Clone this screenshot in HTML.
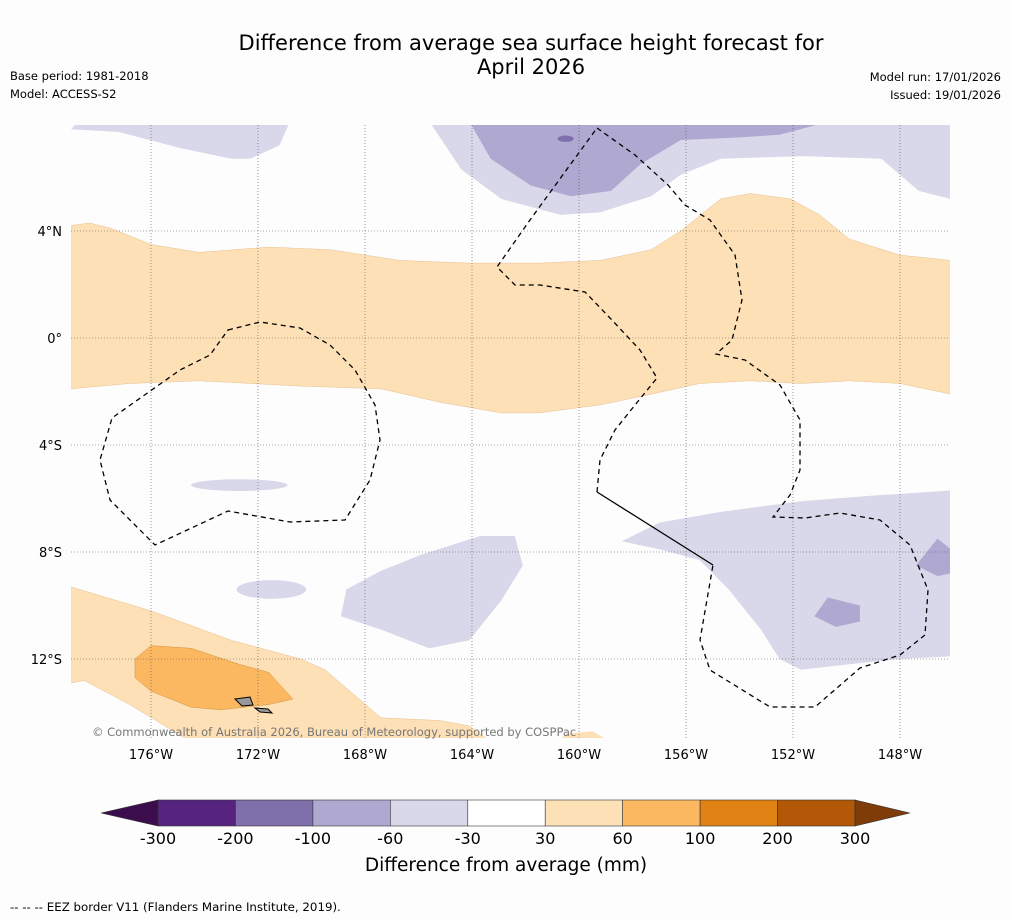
<!DOCTYPE html>
<html><head><meta charset="utf-8">
<style>
html,body{margin:0;padding:0;background:#fdfdfd;}
svg{display:block;font-family:"DejaVu Sans","Liberation Sans",sans-serif;}
</style></head>
<body>
<svg id="chart" width="1011" height="919" viewBox="0 0 1011 919" xmlns="http://www.w3.org/2000/svg">
<rect width="1011" height="919" fill="#fdfdfd"/>
<text x="531" y="50" font-size="21" text-anchor="middle" fill="#000">Difference from average sea surface height forecast for</text>
<text x="531" y="74" font-size="21" text-anchor="middle" fill="#000">April 2026</text>
<text x="10" y="80" font-size="11.5">Base period: 1981-2018</text>
<text x="10" y="98" font-size="11.5">Model: ACCESS-S2</text>
<text x="1001" y="81" font-size="11.5" text-anchor="end">Model run: 17/01/2026</text>
<text x="1001" y="99" font-size="11.5" text-anchor="end">Issued: 19/01/2026</text>
<defs><clipPath id="mapclip"><rect x="71" y="125" width="879" height="613"/></clipPath></defs>
<g id="map" clip-path="url(#mapclip)"></g>
<g id="grid"></g>
<g id="borders" clip-path="url(#mapclip)">
<path d="M228,330 L260,322 L300,328 L330,345 L355,370 L375,405 L380,440 L370,480 L345,520 L290,522 L228,511 L155,545 L110,500 L100,460 L112,418 L180,370 L210,355 Z" fill="none" stroke="#000" stroke-width="1.3" stroke-dasharray="5,4"/>
<path d="M597,128 L635,155 L668,185 L685,205 L710,220 L735,255 L742,300 L732,340 L716,354 L745,360 L780,385 L800,420 L800,470 L790,495 L773,517 L805,518 L840,513 L880,520 L910,545 L928,590 L925,635 L900,655 L860,668 L815,707 L770,707 L710,670 L700,640 L713,565" fill="none" stroke="#000" stroke-width="1.3" stroke-dasharray="5,4"/>
<path d="M597,492 L600,460 L615,430 L635,405 L657,378 L640,350 L610,318 L585,292 L540,285 L515,285 L497,267 L530,220 L570,165 L597,128" fill="none" stroke="#000" stroke-width="1.3" stroke-dasharray="5,4"/>
<path d="M597,492 L713,565" fill="none" stroke="#000" stroke-width="1.3"/>
<path d="M235,699 L250,697 L253,705 L242,706 Z M255,708 L268,709 L272,713 L260,712 Z" fill="#999" stroke="#000" stroke-width="1"/>
</g>
<text x="92" y="736" font-size="11.5" fill="#777">© Commonwealth of Australia 2026, Bureau of Meteorology, supported by COSPPac</text>
<g id="cbar"></g>
<text x="506" y="871" font-size="18.5" text-anchor="middle">Difference from average (mm)</text>
<text x="10" y="911" font-size="11.8">--  --  -- EEZ border V11 (Flanders Marine Institute, 2019).</text>
</svg>
<script>
const lonTicks=[-176,-172,-168,-164,-160,-156,-152,-148];
const latTicks=[4,0,-4,-8,-12];
const levelLabels=["-300","-200","-100","-60","-30","30","60","100","200","300"];
const levelColors=["#56237f","#7f6fab","#afa8d0","#d8d8ea","#ffffff","#fde0b6","#fbb861","#e08214","#b35806"];
const extendLow="#3b0d4d", extendHigh="#7f3b08";
const orangeBand=[[-179,4.2],[-178.3,4.3],[-177.5,4.1],[-176,3.5],[-174.2,3.2],[-171.6,3.4],[-169.3,3.3],[-166.7,2.9],[-164.1,2.8],[-161.5,2.8],[-159.2,2.9],[-157.3,3.3],[-156.2,4.0],[-154.7,5.2],[-153.6,5.4],[-152.1,5.2],[-151,4.6],[-149.9,3.7],[-148,3.1],[-146.1,2.9],[-146.1,-2.1],[-148,-1.7],[-149.9,-1.6],[-151.7,-1.7],[-153.6,-1.6],[-155.5,-1.7],[-157.3,-2.1],[-159.2,-2.5],[-161.5,-2.8],[-162.9,-2.8],[-165.2,-2.4],[-167.4,-1.9],[-170.4,-1.8],[-174.2,-1.6],[-176.8,-1.7],[-179,-1.9]];
const lavTopLeft=[[-179,7.8],[-178.7,8.1],[-170.8,8.1],[-171.2,7.2],[-172.3,6.7],[-173,6.7],[-174.9,7.1],[-177.2,7.7]];
const lavTopMid=[[-165.6,8.1],[-146.1,8.1],[-146.1,5.2],[-147.3,5.5],[-148.7,6.7],[-151.7,6.8],[-154.7,6.7],[-156.2,6.1],[-157.3,5.3],[-159.2,4.7],[-160.7,4.6],[-162.9,5.2],[-164.4,6.3]];
const lavTopDark=[[-164.1,8.1],[-150.6,8.1],[-152.5,7.6],[-154,7.5],[-156.2,7.4],[-157.7,6.5],[-158.8,5.5],[-160.3,5.3],[-161.8,5.7],[-163.3,6.7]];
const lavMid=[[-168.7,-9.4],[-167.4,-8.7],[-165.9,-8.1],[-163.7,-7.4],[-162.4,-7.4],[-162.1,-8.5],[-162.9,-9.8],[-164.1,-11.3],[-165.6,-11.6],[-167.4,-10.9],[-168.9,-10.4]];
const lavRight=[[-158.4,-7.6],[-157,-6.9],[-154.7,-6.5],[-151.7,-6.1],[-149.1,-5.9],[-146.1,-5.7],[-146.1,-11.9],[-148,-12],[-149.9,-12.2],[-151.7,-12.4],[-152.5,-12],[-153.2,-10.9],[-154.4,-9.4],[-155.5,-8.3],[-157,-7.9]];
const darkRight1=[[-151.2,-10.4],[-150.7,-9.7],[-149.5,-10],[-149.5,-10.6],[-150.4,-10.8]];
const darkRight2=[[-147.4,-8.5],[-146.6,-7.5],[-146.1,-7.9],[-146.1,-8.8],[-146.6,-8.9]];
const orangeLow=[[-179,-9.3],[-176,-10.2],[-173,-11.3],[-170.4,-12],[-169.5,-12.4],[-167.4,-14.2],[-165.2,-14.3],[-164.1,-14.5],[-163.3,-15.1],[-174.5,-15.1],[-176.8,-13.7],[-178.5,-12.8],[-179,-12.9]];
const orangeLowDark=[[-176.6,-12],[-176,-11.5],[-174.5,-11.6],[-172.7,-12.2],[-171.6,-12.5],[-170.7,-13.5],[-171.6,-13.7],[-173.4,-13.9],[-174.5,-13.8],[-176,-13.2],[-176.6,-12.7]];
const orangeSmall=[[-160.8,-15.1],[-160.5,-14.8],[-159.5,-14.7],[-158.8,-15.1]];
const ellipses=[{lon:-172.7,lat:-5.5,rx:1.8,ry:0.22,c:3},{lon:-171.5,lat:-9.4,rx:1.3,ry:0.35,c:3},{lon:-160.5,lat:7.45,rx:0.3,ry:0.12,c:1}];

const NS="http://www.w3.org/2000/svg";
const X0=151,LON0=-176,PX=26.75,Y0=338;
function xs(lon){return X0+(lon-LON0)*PX;}
function ys(lat){return Y0-lat*PX;}
const map=document.getElementById('map');
function poly(pts,color,name,stroke){
  const p=document.createElementNS(NS,'polygon');
  p.setAttribute('points',pts.map(q=>xs(q[0]).toFixed(1)+','+ys(q[1]).toFixed(1)).join(' '));
  p.setAttribute('fill',color);
  p.setAttribute('stroke',stroke||'none');p.setAttribute('stroke-width','0.5');p.setAttribute('stroke-linejoin','round');
  
  
  map.appendChild(p);
}
poly(orangeBand,levelColors[5],'contour-30-60-equatorial','#e8c090');
poly(lavTopLeft,levelColors[3],'contour-neg30-60-north-west');
poly(lavTopMid,levelColors[3],'contour-neg30-60-north');
poly(lavTopDark,levelColors[2],'contour-neg60-100-north');
poly(lavMid,levelColors[3],'contour-neg30-60-central');
poly(lavRight,levelColors[3],'contour-neg30-60-south-east');
poly(darkRight1,levelColors[2],'contour-neg60-100-south-east');
poly(darkRight2,levelColors[2],'contour-neg60-100-east-edge');
poly(orangeLow,levelColors[5],'contour-30-60-south-west','#e8c090');
poly(orangeLowDark,levelColors[6],'contour-60-100-samoa','#d09040');
poly(orangeSmall,levelColors[5],'contour-30-60-south-small');
ellipses.forEach(e=>{
  const el=document.createElementNS(NS,'ellipse');
  el.setAttribute('cx',xs(e.lon));el.setAttribute('cy',ys(e.lat));
  el.setAttribute('rx',e.rx*PX);el.setAttribute('ry',e.ry*PX);
  el.setAttribute('fill',levelColors[e.c]);
  
  
  map.appendChild(el);
});
const grid=document.getElementById('grid');
lonTicks.forEach(l=>{
  const ln=document.createElementNS(NS,'line');
  ln.setAttribute('x1',xs(l));ln.setAttribute('x2',xs(l));ln.setAttribute('y1',125);ln.setAttribute('y2',738);
  ln.setAttribute('stroke','#555');ln.setAttribute('stroke-width','0.6');ln.setAttribute('stroke-dasharray','1,2');
  
  
  grid.appendChild(ln);
  const t=document.createElementNS(NS,'text');
  t.setAttribute('x',xs(l));t.setAttribute('y',759);t.setAttribute('font-size','13');t.setAttribute('text-anchor','middle');
  t.textContent=Math.abs(l)+'°W';
  
  
  grid.appendChild(t);
});
latTicks.forEach(l=>{
  const ln=document.createElementNS(NS,'line');
  ln.setAttribute('x1',71);ln.setAttribute('x2',950);ln.setAttribute('y1',ys(l));ln.setAttribute('y2',ys(l));
  ln.setAttribute('stroke','#555');ln.setAttribute('stroke-width','0.6');ln.setAttribute('stroke-dasharray','1,2');
  
  
  grid.appendChild(ln);
  const t=document.createElementNS(NS,'text');
  t.setAttribute('x',62);t.setAttribute('y',ys(l)+5);t.setAttribute('font-size','13');t.setAttribute('text-anchor','end');
  t.textContent=l===0?'0°':Math.abs(l)+'°'+(l>0?'N':'S');
  
  
  grid.appendChild(t);
});
const cb=document.getElementById('cbar');
const CB0=158,CB1=855,CBY=800,CBH=26,segW=(CB1-CB0)/levelColors.length;
levelColors.forEach((c,i)=>{
  const r=document.createElementNS(NS,'rect');
  r.setAttribute('x',CB0+i*segW);r.setAttribute('y',CBY);r.setAttribute('width',segW);r.setAttribute('height',CBH);
  r.setAttribute('fill',c);r.setAttribute('stroke','#333');r.setAttribute('stroke-width','0.6');
  
  
  cb.appendChild(r);
});
[[extendLow,`${CB0},${CBY} ${CB0},${CBY+CBH} 101,${CBY+CBH/2}`,'colorbar-extend-low'],[extendHigh,`${CB1},${CBY} ${CB1},${CBY+CBH} 910,${CBY+CBH/2}`,'colorbar-extend-high']].forEach(a=>{
  const p=document.createElementNS(NS,'polygon');
  p.setAttribute('points',a[1]);p.setAttribute('fill',a[0]);p.setAttribute('stroke','#333');p.setAttribute('stroke-width','0.6');
  
  
  cb.appendChild(p);
});
levelLabels.forEach((s,i)=>{
  const t=document.createElementNS(NS,'text');
  t.setAttribute('x',CB0+i*segW);t.setAttribute('y',844);t.setAttribute('font-size','16');t.setAttribute('text-anchor','middle');
  t.textContent=s;
  
  
  cb.appendChild(t);
});
</script>
</body></html>
